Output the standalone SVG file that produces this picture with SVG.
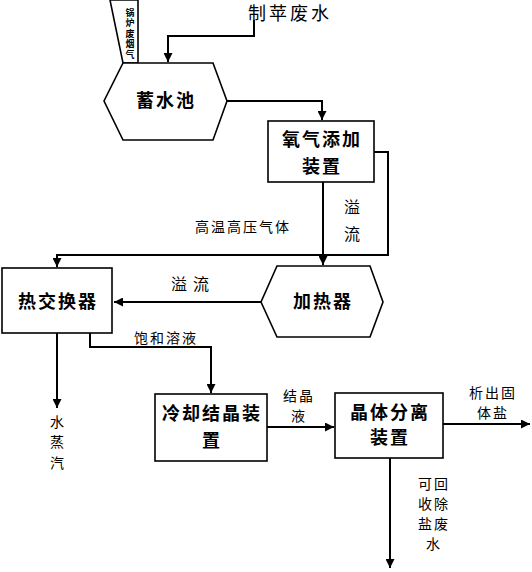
<svg xmlns="http://www.w3.org/2000/svg" width="532" height="572" viewBox="0 0 532 572">
<style>
.sh{fill:#fff;stroke:#000;stroke-width:1.6}
.ln{fill:none;stroke:#000;stroke-width:2}
.t{font-family:"Noto Sans CJK SC",sans-serif;font-weight:bold;font-size:18px;fill:#000;text-anchor:middle;letter-spacing:2px}
.s{font-family:"Noto Sans CJK SC",sans-serif;font-size:14px;fill:#000;text-anchor:middle;letter-spacing:2px}
.v{font-family:"Noto Sans CJK SC",sans-serif;font-size:9px;font-weight:bold;fill:#000;writing-mode:vertical-rl;text-orientation:upright;letter-spacing:1.5px}
</style>
<defs>
<marker id="a" viewBox="0 0 10 10" refX="10" refY="5" markerWidth="4.5" markerHeight="4.5" orient="auto" markerUnits="strokeWidth"><path d="M0,0L10,5L0,10z" fill="#000"/></marker>
</defs>
<g id="gas">
<polygon class="sh" points="110,0 138,0 138,63 123,63"/>
<text class="v" x="130" y="8">锅炉废烟气</text>
</g>
<g id="wastewater"><text class="t" style="font-weight:normal;letter-spacing:3px" x="290" y="20">制苹废水</text></g>
<g id="pool">
<polygon class="sh" points="123,63 213,63 227,101 213,140 123,140 104,101"/>
<text class="t" x="166" y="107">蓄水池</text>
</g>
<g id="oxygen">
<rect class="sh" x="268" y="121" width="106" height="61"/>
<text class="t" x="322" y="146">氧气添加</text>
<text class="t" x="322" y="173">装置</text>
</g>
<g id="heater">
<polygon class="sh" points="277,266 370,266 383,302 370,337 277,337 261,302"/>
<text class="t" x="323" y="308">加热器</text>
</g>
<g id="exchanger">
<rect class="sh" x="2" y="268" width="110" height="65"/>
<text class="t" x="58" y="308">热交换器</text>
</g>
<g id="cooling">
<rect class="sh" x="155" y="394" width="112" height="67"/>
<text class="t" x="212" y="420">冷却结晶装</text>
<text class="t" x="212" y="447">置</text>
</g>
<g id="separator">
<rect class="sh" x="335" y="393" width="108" height="65"/>
<text class="t" x="390" y="419">晶体分离</text>
<text class="t" x="390" y="444">装置</text>
</g>
<g id="connectors">
<polyline class="ln" points="254,20 254,36 168,36 168,62" marker-end="url(#a)"/>
<polyline class="ln" points="227,101 322,101 322,120" marker-end="url(#a)"/>
<polyline class="ln" points="323,182 323,265" marker-end="url(#a)"/>
<polyline class="ln" points="374,152 388,152 388,255 57,255 57,267" marker-end="url(#a)"/>
<line class="ln" x1="261" y1="302" x2="114" y2="302" marker-end="url(#a)"/>
<line class="ln" x1="57" y1="333" x2="57" y2="408" marker-end="url(#a)"/>
<polyline class="ln" points="90,333 90,347 211,347 211,393" marker-end="url(#a)"/>
<line class="ln" x1="267" y1="427" x2="334" y2="427" marker-end="url(#a)"/>
<line class="ln" x1="443" y1="424" x2="530" y2="424" marker-end="url(#a)"/>
<line class="ln" x1="390" y1="458" x2="390" y2="568" marker-end="url(#a)"/>
</g>
<g id="labels">
<text class="s" x="243" y="232">高温高压气体</text>
<text class="s" style="font-size:16px" x="353" y="213">溢</text>
<text class="s" style="font-size:16px" x="353" y="240">流</text>
<text class="s" style="font-size:16px;letter-spacing:6px" x="193" y="290">溢流</text>
<text class="s" x="166" y="343">饱和溶液</text>
<text class="s" x="58" y="427">水</text>
<text class="s" x="58" y="447">蒸</text>
<text class="s" x="58" y="468">汽</text>
<text class="s" x="299" y="401">结晶</text>
<text class="s" x="299" y="421">液</text>
<text class="s" x="493" y="398">析出固</text>
<text class="s" x="493" y="418">体盐</text>
<text class="s" x="434" y="489">可回</text>
<text class="s" x="434" y="509">收除</text>
<text class="s" x="434" y="529">盐废</text>
<text class="s" x="434" y="549">水</text>
</g>
</svg>
